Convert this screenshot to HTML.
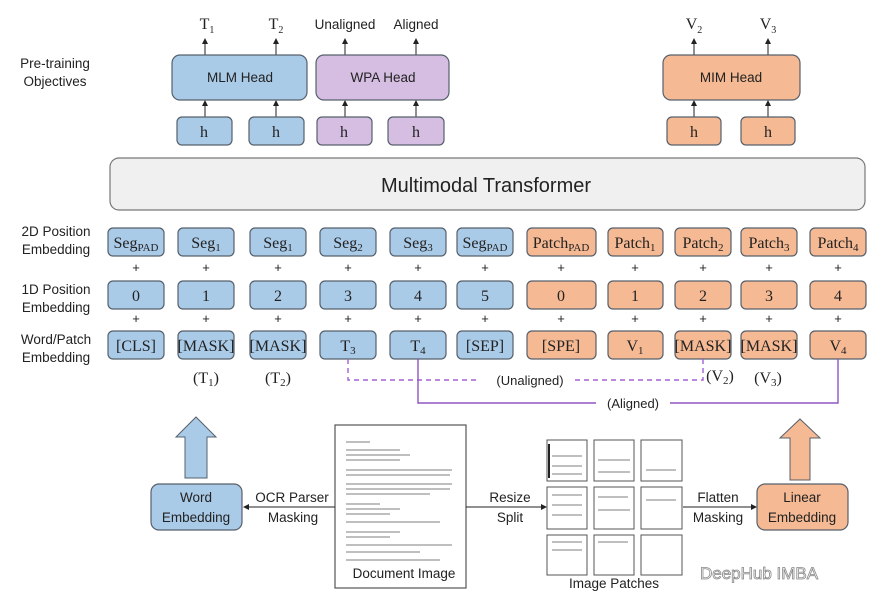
<!DOCTYPE html>
<html><head><meta charset="utf-8"><style>
html,body{margin:0;padding:0;background:#fff}
svg{display:block}
text{font-family:"Liberation Sans",sans-serif;fill:#222}
text.s,.s text{font-family:"Liberation Serif",serif;font-size:16px}
.l{font-size:13.5px}
.b{fill:#aacbe8;stroke:#56606b;stroke-width:1.2}
.p{fill:#d6bee2;stroke:#56606b;stroke-width:1.2}
.o{fill:#f5b993;stroke:#56606b;stroke-width:1.2}
</style></head><body>
<svg width="875" height="613" viewBox="0 0 875 613" xmlns="http://www.w3.org/2000/svg">
<defs><marker id="a" markerWidth="6" markerHeight="6" refX="5" refY="3" orient="auto"><path d="M0,0L6,3L0,6z" fill="#222"/></marker></defs>
<text class="s" x="207" y="29" text-anchor="middle">T<tspan font-size="10" dy="4">1</tspan></text>
<text class="s" x="276" y="29" text-anchor="middle">T<tspan font-size="10" dy="4">2</tspan></text>
<text class="l" x="345" y="29" text-anchor="middle">Unaligned</text>
<text class="l" x="416" y="29" text-anchor="middle">Aligned</text>
<text class="s" x="694" y="29" text-anchor="middle">V<tspan font-size="10" dy="4">2</tspan></text>
<text class="s" x="768" y="29" text-anchor="middle">V<tspan font-size="10" dy="4">3</tspan></text>
<text class="l" x="55" y="68" text-anchor="middle">Pre-training</text>
<text class="l" x="55" y="86" text-anchor="middle">Objectives</text>
<g stroke="#222" stroke-width="1" marker-end="url(#a)">
<line x1="205" y1="55" x2="205" y2="39"/><line x1="276" y1="55" x2="276" y2="39"/>
<line x1="345" y1="55" x2="345" y2="39"/><line x1="416" y1="55" x2="416" y2="39"/>
<line x1="694" y1="55" x2="694" y2="39"/><line x1="768" y1="55" x2="768" y2="39"/>
<line x1="205" y1="117" x2="205" y2="101"/><line x1="276" y1="117" x2="276" y2="101"/>
<line x1="345" y1="117" x2="345" y2="101"/><line x1="416" y1="117" x2="416" y2="101"/>
<line x1="694" y1="117" x2="694" y2="101"/><line x1="768" y1="117" x2="768" y2="101"/>
</g>
<rect class="b" x="172" y="55" width="135" height="45" rx="8"/>
<rect class="p" x="316" y="55" width="133" height="45" rx="8"/>
<rect class="o" x="663" y="55" width="137" height="45" rx="8"/>
<text x="240" y="82" text-anchor="middle" font-size="13.5">MLM Head</text>
<text x="383" y="82" text-anchor="middle" font-size="13.5">WPA Head</text>
<text x="731" y="82" text-anchor="middle" font-size="13.5">MIM Head</text>
<rect class="b" x="177" y="117" width="55" height="28" rx="5"/><rect class="b" x="249" y="117" width="55" height="28" rx="5"/>
<rect class="p" x="317" y="117" width="55" height="28" rx="5"/><rect class="p" x="388" y="117" width="56" height="28" rx="5"/>
<rect class="o" x="667" y="117" width="54" height="28" rx="5"/><rect class="o" x="741" y="117" width="54" height="28" rx="5"/>
<g class="s" text-anchor="middle"><text x="204" y="137">h</text><text x="276" y="137">h</text><text x="344" y="137">h</text><text x="416" y="137">h</text><text x="694" y="137">h</text><text x="768" y="137">h</text></g>
<rect x="110" y="158" width="755" height="52" rx="9" fill="#f0f0f0" stroke="#777" stroke-width="1.2"/>
<text x="486" y="192" text-anchor="middle" font-size="20">Multimodal Transformer</text>
<g class="l" text-anchor="middle">
<text x="56" y="236">2D Position</text><text x="56" y="254">Embedding</text>
<text x="56" y="294">1D Position</text><text x="56" y="312">Embedding</text>
<text x="56" y="344">Word/Patch</text><text x="56" y="362">Embedding</text>
</g>
<g class="b">
<rect x="108" y="228" width="56" height="28" rx="5"/><rect x="178" y="228" width="56" height="28" rx="5"/><rect x="250" y="228" width="56" height="28" rx="5"/><rect x="320" y="228" width="56" height="28" rx="5"/><rect x="390" y="228" width="56" height="28" rx="5"/><rect x="457" y="228" width="56" height="28" rx="5"/>
<rect x="108" y="281" width="56" height="28" rx="5"/><rect x="178" y="281" width="56" height="28" rx="5"/><rect x="250" y="281" width="56" height="28" rx="5"/><rect x="320" y="281" width="56" height="28" rx="5"/><rect x="390" y="281" width="56" height="28" rx="5"/><rect x="457" y="281" width="56" height="28" rx="5"/>
<rect x="108" y="331" width="56" height="28" rx="5"/><rect x="178" y="331" width="56" height="28" rx="5"/><rect x="250" y="331" width="56" height="28" rx="5"/><rect x="320" y="331" width="56" height="28" rx="5"/><rect x="390" y="331" width="56" height="28" rx="5"/><rect x="457" y="331" width="56" height="28" rx="5"/>
</g>
<g class="o">
<rect x="527" y="228" width="69" height="28" rx="5"/><rect x="608" y="228" width="55" height="28" rx="5"/><rect x="675" y="228" width="56" height="28" rx="5"/><rect x="741" y="228" width="56" height="28" rx="5"/><rect x="810" y="228" width="56" height="28" rx="5"/>
<rect x="527" y="281" width="69" height="28" rx="5"/><rect x="608" y="281" width="55" height="28" rx="5"/><rect x="675" y="281" width="56" height="28" rx="5"/><rect x="741" y="281" width="56" height="28" rx="5"/><rect x="810" y="281" width="56" height="28" rx="5"/>
<rect x="527" y="331" width="69" height="28" rx="5"/><rect x="608" y="331" width="55" height="28" rx="5"/><rect x="675" y="331" width="56" height="28" rx="5"/><rect x="741" y="331" width="56" height="28" rx="5"/><rect x="810" y="331" width="56" height="28" rx="5"/>
</g>
<g class="s" text-anchor="middle">
<text x="136" y="248">Seg<tspan font-size="11" dy="3">PAD</tspan></text>
<text x="206" y="248">Seg<tspan font-size="11" dy="3">1</tspan></text>
<text x="278" y="248">Seg<tspan font-size="11" dy="3">1</tspan></text>
<text x="348" y="248">Seg<tspan font-size="11" dy="3">2</tspan></text>
<text x="418" y="248">Seg<tspan font-size="11" dy="3">3</tspan></text>
<text x="485" y="248">Seg<tspan font-size="11" dy="3">PAD</tspan></text>
<text x="561" y="248">Patch<tspan font-size="11" dy="3">PAD</tspan></text>
<text x="635" y="248">Patch<tspan font-size="11" dy="3">1</tspan></text>
<text x="703" y="248">Patch<tspan font-size="11" dy="3">2</tspan></text>
<text x="769" y="248">Patch<tspan font-size="11" dy="3">3</tspan></text>
<text x="838" y="248">Patch<tspan font-size="11" dy="3">4</tspan></text>
<text x="136" y="301">0</text><text x="206" y="301">1</text><text x="278" y="301">2</text><text x="348" y="301">3</text><text x="418" y="301">4</text><text x="485" y="301">5</text>
<text x="561" y="301">0</text><text x="635" y="301">1</text><text x="703" y="301">2</text><text x="769" y="301">3</text><text x="838" y="301">4</text>
<text x="136" y="351">[CLS]</text><text x="206" y="351">[MASK]</text><text x="278" y="351">[MASK]</text><text x="348" y="351">T<tspan font-size="11" dy="3">3</tspan></text><text x="418" y="351">T<tspan font-size="11" dy="3">4</tspan></text><text x="485" y="351">[SEP]</text>
<text x="561" y="351">[SPE]</text><text x="635" y="351">V<tspan font-size="11" dy="3">1</tspan></text><text x="703" y="351">[MASK]</text><text x="769" y="351">[MASK]</text><text x="838" y="351">V<tspan font-size="11" dy="3">4</tspan></text>
<text x="206" y="383">(T<tspan font-size="11" dy="3">1</tspan><tspan dy="-3">)</tspan></text>
<text x="278" y="383">(T<tspan font-size="11" dy="3">2</tspan><tspan dy="-3">)</tspan></text>
<text x="720" y="381">(V<tspan font-size="11" dy="3">2</tspan><tspan dy="-3">)</tspan></text>
<text x="768" y="383">(V<tspan font-size="11" dy="3">3</tspan><tspan dy="-3">)</tspan></text>
</g>
<g font-size="13" text-anchor="middle">
<text x="136" y="272">+</text><text x="206" y="272">+</text><text x="278" y="272">+</text><text x="348" y="272">+</text><text x="418" y="272">+</text><text x="485" y="272">+</text><text x="561" y="272">+</text><text x="635" y="272">+</text><text x="703" y="272">+</text><text x="769" y="272">+</text><text x="838" y="272">+</text>
<text x="136" y="323">+</text><text x="206" y="323">+</text><text x="278" y="323">+</text><text x="348" y="323">+</text><text x="418" y="323">+</text><text x="485" y="323">+</text><text x="561" y="323">+</text><text x="635" y="323">+</text><text x="703" y="323">+</text><text x="769" y="323">+</text><text x="838" y="323">+</text>
</g>
<path d="M348,359V380H480M575,380H703V359" fill="none" stroke="#a461d6" stroke-width="1.4" stroke-dasharray="5,4"/>
<text x="530" y="385" text-anchor="middle" font-size="13">(Unaligned)</text>
<path d="M418,359V403H596M670,403H838V359" fill="none" stroke="#8f55c4" stroke-width="1.4"/>
<text x="633" y="408" text-anchor="middle" font-size="13">(Aligned)</text>
<path d="M196,417L216,437H207V478H185V437H176Z" fill="#aacbe8" stroke="#56606b" stroke-width="1"/>
<path d="M800,419L820,438H810V480H790V438H780Z" fill="#f5b993" stroke="#56606b" stroke-width="1"/>
<rect class="b" x="151" y="484" width="91" height="46" rx="8"/>
<rect class="o" x="757" y="484" width="91" height="46" rx="8"/>
<rect x="335" y="425" width="131" height="163" fill="#fff" stroke="#555" stroke-width="1.2"/>
<g class="l" text-anchor="middle">
<text x="196" y="502">Word</text><text x="196" y="522">Embedding</text>
<text x="802" y="502">Linear</text><text x="802" y="522">Embedding</text>
<text x="292" y="502">OCR Parser</text><text x="293" y="522">Masking</text>
<text x="510" y="502">Resize</text><text x="510" y="522">Split</text>
<text x="718" y="502">Flatten</text><text x="718" y="522">Masking</text>
<text x="404" y="578">Document Image</text>
<text x="614" y="588">Image Patches</text>
</g>
<g stroke="#222" stroke-width="1" marker-end="url(#a)">
<line x1="335" y1="507" x2="244" y2="507"/><line x1="466" y1="507" x2="546" y2="507"/><line x1="683" y1="507" x2="756" y2="507"/>
</g>
<g stroke="#aaa" stroke-width="1.5">
<line x1="346" y1="442" x2="370" y2="442"/><line x1="346" y1="450" x2="400" y2="450"/><line x1="346" y1="455" x2="410" y2="455"/><line x1="346" y1="460" x2="400" y2="460"/>
<line x1="346" y1="470" x2="452" y2="470"/><line x1="346" y1="475" x2="450" y2="475"/><line x1="346" y1="484" x2="452" y2="484"/><line x1="346" y1="489" x2="450" y2="489"/><line x1="346" y1="494" x2="430" y2="494"/>
<line x1="346" y1="504" x2="380" y2="504"/><line x1="346" y1="509" x2="400" y2="509"/><line x1="346" y1="514" x2="390" y2="514"/><line x1="346" y1="522" x2="440" y2="522"/>
<line x1="346" y1="532" x2="400" y2="532"/><line x1="346" y1="537" x2="390" y2="537"/><line x1="346" y1="545" x2="452" y2="545"/><line x1="346" y1="552" x2="420" y2="552"/><line x1="346" y1="560" x2="440" y2="560"/>
</g>
<g fill="#fff" stroke="#555" stroke-width="1">
<rect x="547" y="440" width="40" height="41"/><rect x="594" y="440" width="40" height="41"/><rect x="641" y="440" width="41" height="41"/>
<rect x="547" y="487" width="40" height="42"/><rect x="594" y="487" width="40" height="42"/><rect x="641" y="487" width="41" height="42"/>
<rect x="547" y="535" width="40" height="40"/><rect x="594" y="535" width="40" height="40"/><rect x="641" y="535" width="41" height="40"/>
</g>
<g stroke="#aaa" stroke-width="1.5">
<line x1="552" y1="456" x2="582" y2="456"/><line x1="552" y1="466" x2="582" y2="466"/><line x1="552" y1="474" x2="582" y2="474"/>
<line x1="598" y1="460" x2="630" y2="460"/><line x1="598" y1="472" x2="630" y2="472"/><line x1="646" y1="470" x2="676" y2="470"/>
<line x1="552" y1="495" x2="582" y2="495"/><line x1="552" y1="505" x2="582" y2="505"/><line x1="552" y1="515" x2="582" y2="515"/>
<line x1="598" y1="497" x2="628" y2="497"/><line x1="598" y1="510" x2="630" y2="510"/><line x1="646" y1="500" x2="676" y2="500"/>
<line x1="552" y1="542" x2="582" y2="542"/><line x1="552" y1="550" x2="582" y2="550"/><line x1="598" y1="542" x2="628" y2="542"/>
</g>
<line x1="549" y1="444" x2="549" y2="478" stroke="#222" stroke-width="2"/>
<text x="700" y="579" font-size="17" style="fill:#fff" stroke="#888" stroke-width="0.8">DeepHub IMBA</text>
</svg>
</body></html>
